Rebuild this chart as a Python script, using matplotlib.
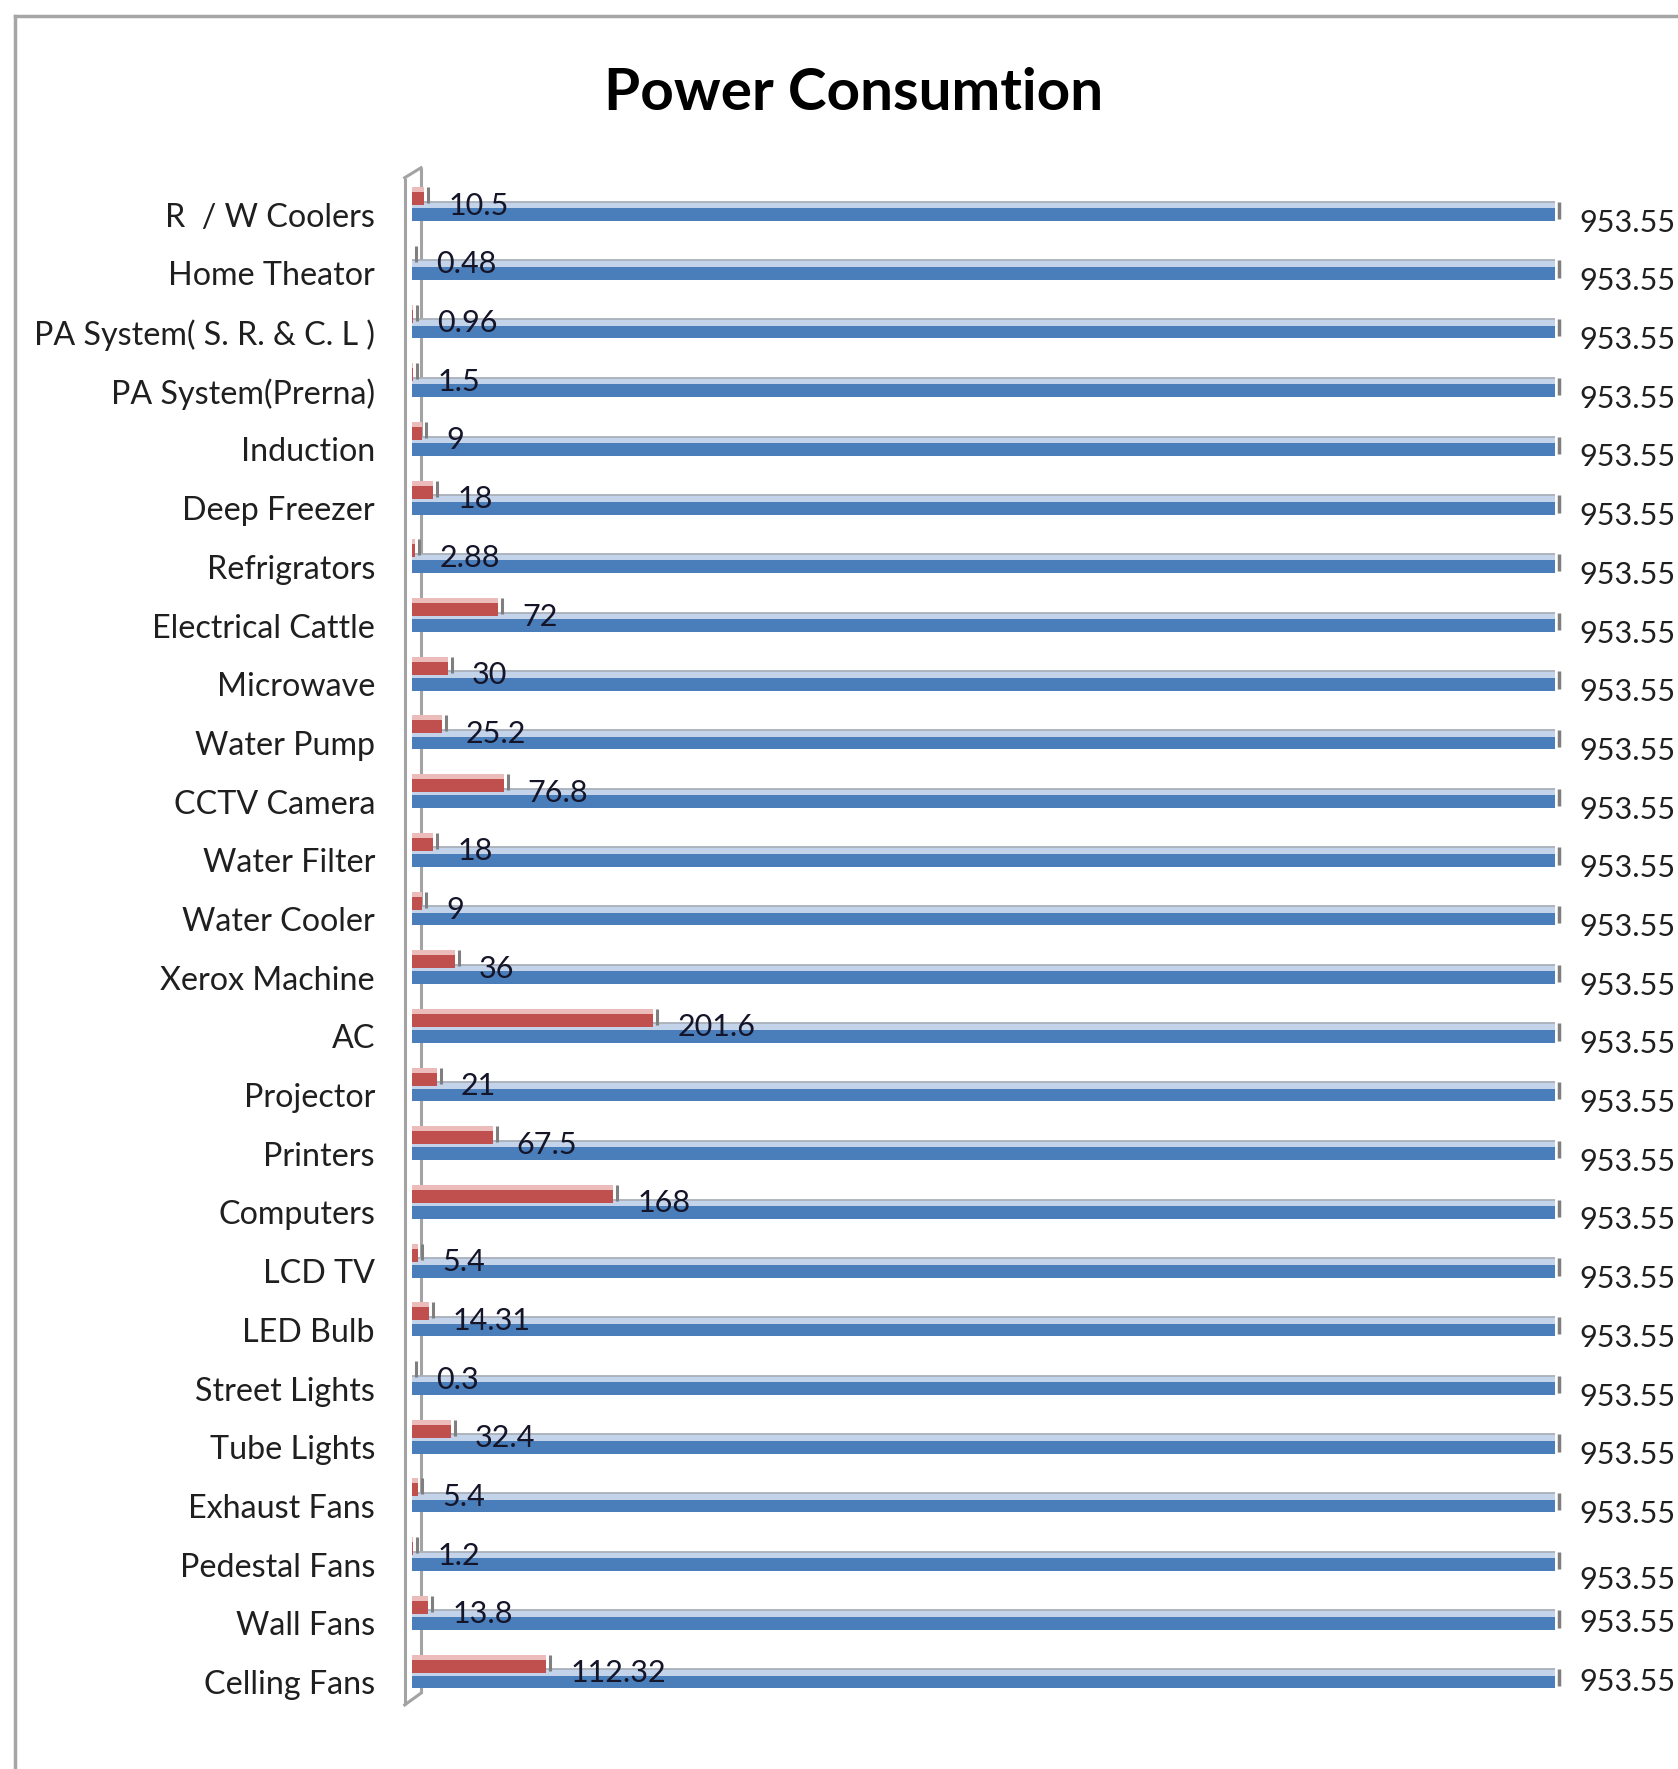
import matplotlib
matplotlib.use("Agg")
import matplotlib.pyplot as plt
from matplotlib.lines import Line2D
from matplotlib.transforms import offset_copy
import numpy as np

# ---------------- data (top row first) ----------------
categories = ["R  / W Coolers", "Home Theator", "PA System( S. R. & C. L )",
              "PA System(Prerna)", "Induction", "Deep Freezer", "Refrigrators",
              "Electrical Cattle", "Microwave", "Water Pump", "CCTV Camera",
              "Water Filter", "Water Cooler", "Xerox Machine", "AC", "Projector",
              "Printers", "Computers", "LCD TV", "LED Bulb", "Street Lights",
              "Tube Lights", "Exhaust Fans", "Pedestal Fans", "Wall Fans",
              "Celling Fans"]
consumption = [10.5, 0.48, 0.96, 1.5, 9, 18, 2.88, 72, 30, 25.2, 76.8, 18, 9,
               36, 201.6, 21, 67.5, 168, 5.4, 14.31, 0.3, 32.4, 5.4, 1.2, 13.8,
               112.32]
total = [953.55, 953.55, 953.55, 953.55, 953.55, 953.55, 953.55, 953.55,
         953.55, 953.55, 953.55, 953.55, 953.55, 953.55, 953.55, 953.55,
         953.55, 953.55, 953.55, 953.55, 953.55, 953.55, 953.55, 953.55,
         953.55, 953.55]
title = "Power Consumtion"

# vertical offset (pixels, downward) of the total labels, per row
total_label_dy = [8] * 23 + [15, 0, 0]

# ---------------- figure ----------------
W, H = 1678, 1769
plt.rcParams['font.family'] = ['Lato', 'DejaVu Sans']
fig = plt.figure(figsize=(W / 100, H / 100), dpi=100)

ax_left, ax_bottom, ax_w, ax_h = 411.7, 57.65, 1143.3, 1526.0
ax = fig.add_axes([ax_left / W, ax_bottom / H, ax_w / W, ax_h / H])

n = len(categories)
ypos = np.arange(n)[::-1]
row_px = ax_h / n
u = 1.0 / row_px                      # data units per pixel (y)
xu = max(total) / ax_w                # data units per pixel (x)

ax.set_xlim(0, max(total))
ax.set_ylim(-0.5, n - 0.5)

BLUE = '#4a7ebb'
BLUE_TOP = '#c3d3ea'
RED = '#c0504d'
RED_TOP = '#ecbcba'
CAP = '#7f7f7f'
WALL = '#a3a3a3'
TXT = '#1f1f1f'

# back wall line (behind bars) and front edge
back_x = 9.3 * xu
front_x = -7.0 * xu
ax.plot([back_x, back_x], [-0.19, n - 0.5 + 0.30], color=WALL, lw=2.2,
        zorder=1, clip_on=False, solid_capstyle='butt')
ax.plot([front_x, front_x], [-0.39, n - 0.5 + 0.13], color=WALL, lw=2.2,
        zorder=6, clip_on=False, solid_capstyle='butt')
ax.plot([front_x, back_x], [n - 0.5 + 0.13, n - 0.5 + 0.30], color=WALL,
        lw=2.2, zorder=6, clip_on=False)
ax.plot([front_x, back_x], [-0.39, -0.19], color=WALL, lw=2.2, zorder=6,
        clip_on=False)

# blue series (total)
bh = 12.7 * u
ax.barh(ypos + bh / 2 + 3.3 * u, total, height=6.6 * u, color=BLUE_TOP,
        zorder=2, linewidth=0)
ax.hlines(ypos + bh / 2 + 6.6 * u, 0, total, color='#a8b0bb', lw=1.3, zorder=2)
ax.barh(ypos, total, height=bh, color=BLUE, zorder=3, linewidth=0)

# red series (consumption)
rdy = 16 * u
rh = 13 * u
ax.barh(ypos + rdy + rh / 2 + 2.5 * u, consumption, height=5 * u,
        color=RED_TOP, zorder=4, linewidth=0)
ax.barh(ypos + rdy, consumption, height=rh, color=RED, zorder=5, linewidth=0)

# 3D end caps
cap_tr = offset_copy(ax.transData, fig=fig, x=4, y=0, units='dots')
ax.vlines(total, ypos - bh / 2 + 2 * u, ypos + bh / 2 + 6.6 * u, color=CAP,
          lw=2.5, transform=cap_tr, zorder=3, clip_on=False)
ax.vlines(consumption, ypos + rdy - rh / 2 + 2 * u, ypos + rdy + rh / 2 + 5 * u,
          color=CAP, lw=2.2, transform=cap_tr, zorder=5, clip_on=False)

# value labels
for y, v, dy in zip(ypos, total, total_label_dy):
    ax.annotate(f'{v:g}', xy=(v, y), xytext=(24, -dy),
                textcoords='offset pixels', ha='left', va='center',
                fontsize=22, color=TXT, annotation_clip=False)
for y, v in zip(ypos, consumption):
    ax.annotate(f'{v:g}', xy=(v, y), xytext=(24, 9),
                textcoords='offset pixels', ha='left', va='center',
                fontsize=22, color='#15152a', zorder=7, annotation_clip=False)

# category labels
ax.set_yticks(ypos)
ax.set_yticklabels(categories, fontsize=23.2, color=TXT)
ax.tick_params(axis='y', length=0, pad=36.7 * 0.72)
ax.set_xticks([])
for s in ax.spines.values():
    s.set_visible(False)
ax.patch.set_visible(False)

# title
fig.text(854 / W, 1 - 93 / H, title, ha='center', va='center',
         fontsize=42, fontweight='bold', color='black')

# chart-area border (top and left edges visible)
fig.add_artist(Line2D([15 / W, 1.0], [1 - 16 / H, 1 - 16 / H],
                      transform=fig.transFigure, color='#a6a6a6', lw=2.5))
fig.add_artist(Line2D([15 / W, 15 / W], [0.0, 1 - 16 / H],
                      transform=fig.transFigure, color='#a6a6a6', lw=2.5))

fig.savefig('out.png', dpi=100, facecolor='white')
